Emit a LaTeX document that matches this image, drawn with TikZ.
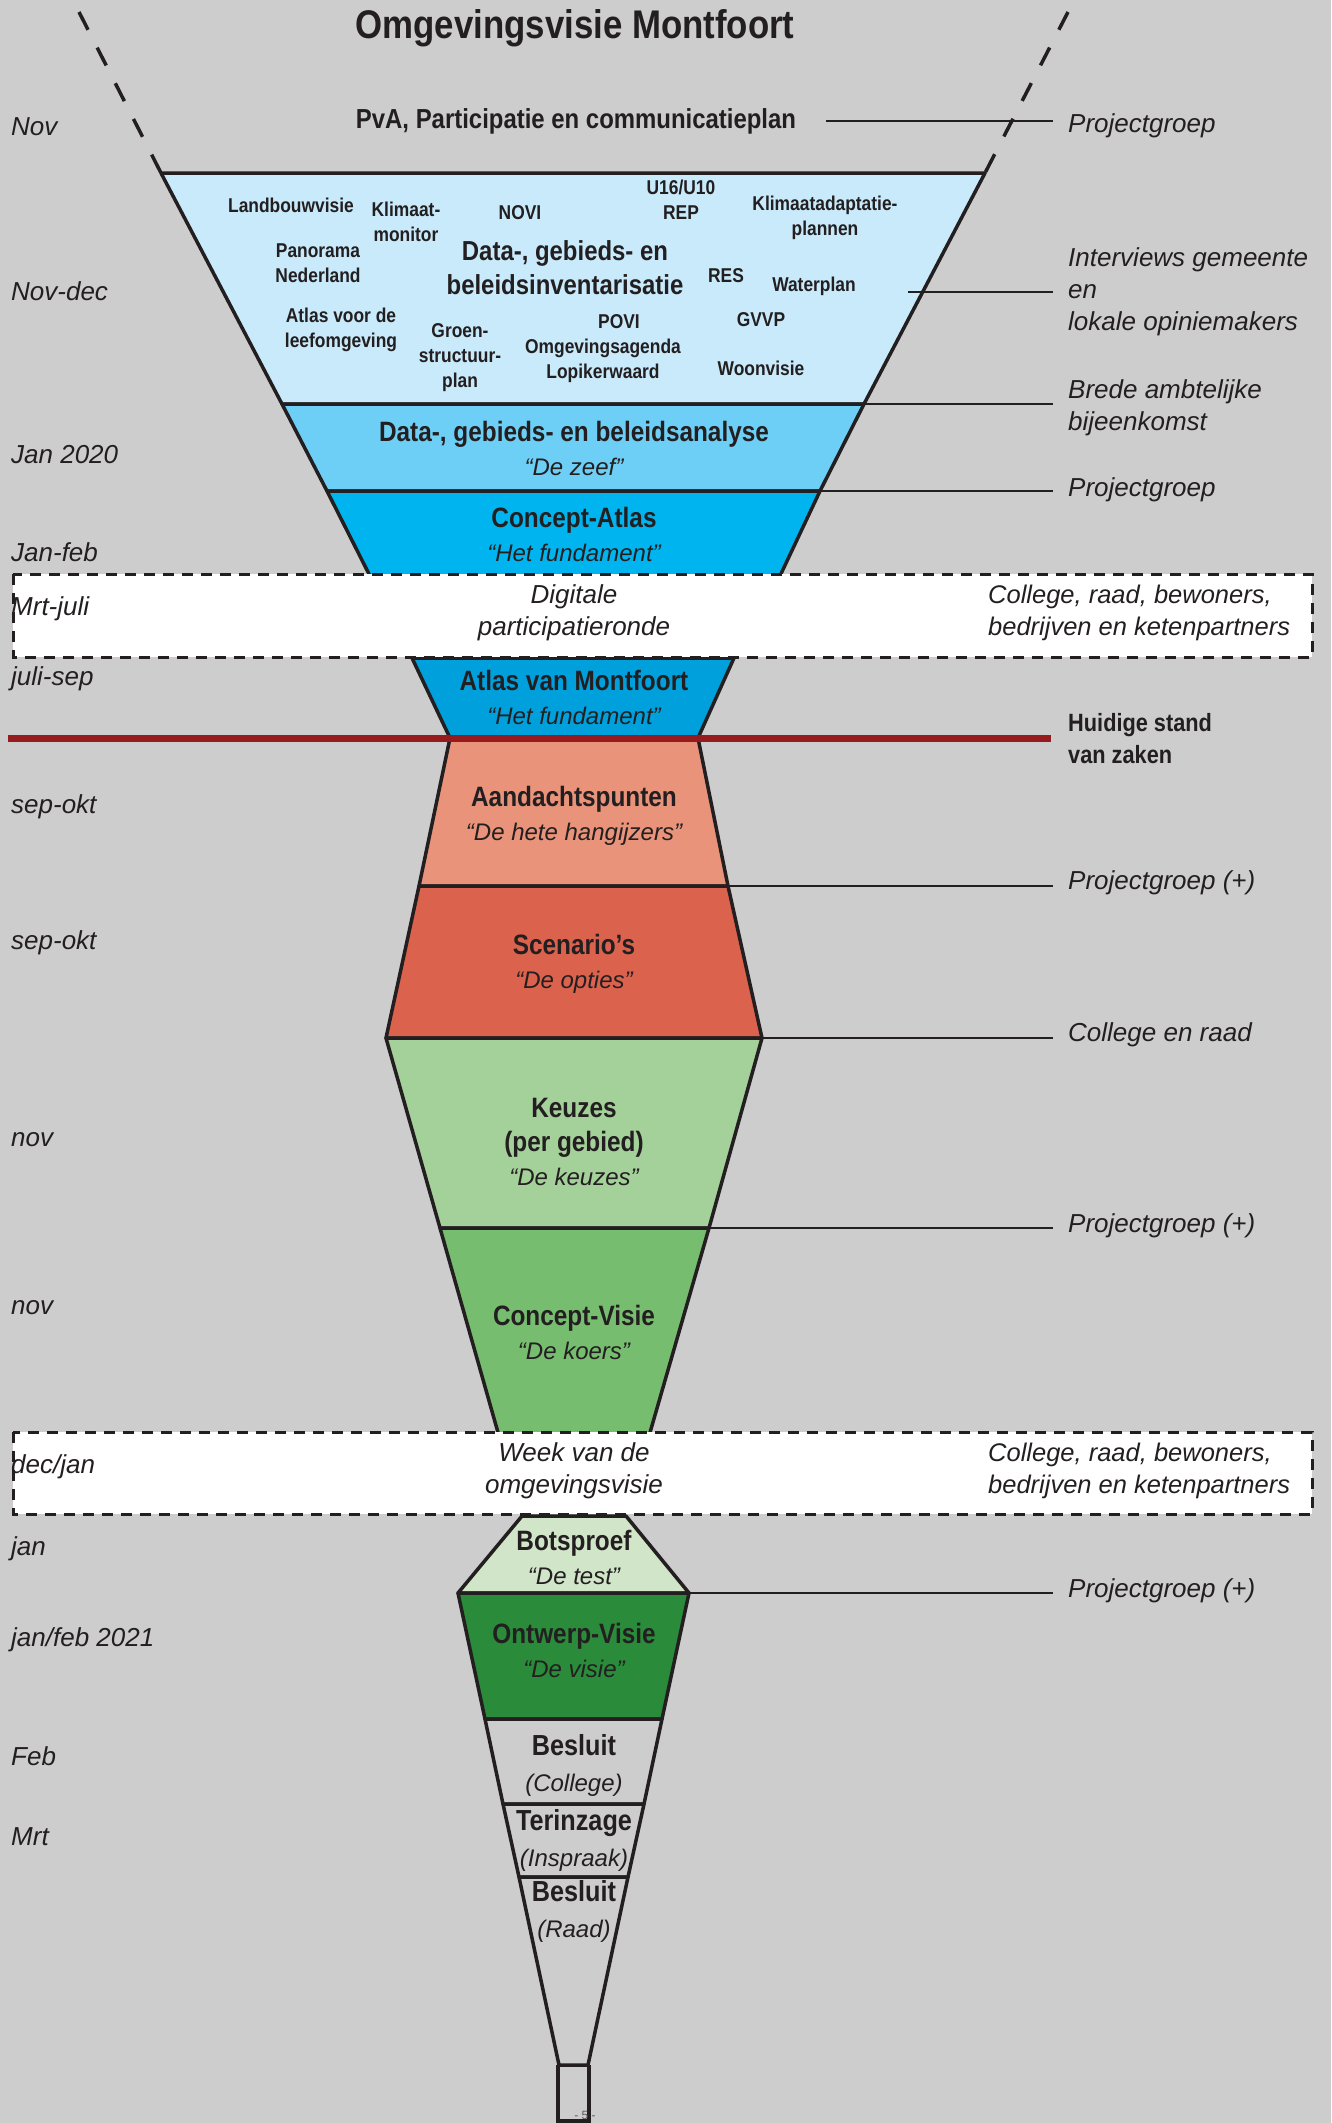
\documentclass[tikz,border=0pt]{standalone}
\usepackage{fontspec}
\setmainfont{Liberation Sans}[BoldFeatures={FakeStretch=0.87}]
\usepackage{tikz}

\definecolor{bggray}{HTML}{CDCDCD}
\definecolor{ink}{HTML}{231F20}
\definecolor{invblue}{HTML}{C8EAFB}
\definecolor{zeefblue}{HTML}{6DCFF6}
\definecolor{atlasblue}{HTML}{00B5EF}
\definecolor{montblue}{HTML}{00A0DC}
\definecolor{puntenred}{HTML}{E8937A}
\definecolor{optiesred}{HTML}{DB634E}
\definecolor{keuzegreen}{HTML}{A4D09A}
\definecolor{koersgreen}{HTML}{77BD6F}
\definecolor{testgreen}{HTML}{D1E6C8}
\definecolor{visiegreen}{HTML}{2A8B3B}
\definecolor{standred}{HTML}{951B1E}

\newcommand{\motto}[1]{{\fontsize{24}{34}\selectfont\mdseries\itshape #1}}

\begin{document}
\begin{tikzpicture}[x=1pt, y=-1pt, text=ink,
    part/.style={draw=ink, line width=3.5pt, line join=round},
    conn/.style={draw=ink, line width=2.7pt, shorten >=15pt},
    month/.style={anchor=west, inner sep=0pt, font=\fontsize{26}{32}\selectfont\itshape},
    who/.style={anchor=west, inner sep=0pt, align=left, font=\fontsize{26}{32}\selectfont\itshape},
    src/.style={inner sep=0pt, align=center, font=\fontsize{20}{25}\selectfont\bfseries},
    stage/.style={inner sep=0pt, align=center, font=\fontsize{28}{34}\selectfont\bfseries},
    dashbox/.style={draw=ink, fill=white, line width=3pt, dash pattern=on 11pt off 8pt}]
    \useasboundingbox (0,0) rectangle (1331,2123);
    \fill[bggray] (0,0) rectangle (1331,2123);

    % bovenkant trechter
    \draw[ink, line width=3.5pt, dash pattern=on 20pt off 20pt] (79,12) -- (161,173);
    \draw[ink, line width=3.5pt, dash pattern=on 20pt off 20pt] (1068,12) -- (985,173);

    \filldraw[part, fill=invblue] (161,173) -- (985,173) -- (864,404) -- (282,404) -- cycle;
    \filldraw[part, fill=zeefblue] (282,404) -- (864,404) -- (820,491) -- (327,491) -- cycle;
    \filldraw[part, fill=atlasblue] (327,491) -- (820,491) -- (779,578) -- (371,578) -- cycle;

    % midden
    \filldraw[part, fill=montblue] (412,658) -- (734,658) -- (698,738) -- (450,738) -- cycle;
    \filldraw[part, fill=puntenred] (450,738) -- (698,738) -- (728,886) -- (419,886) -- cycle;
    \filldraw[part, fill=optiesred] (419,886) -- (728,886) -- (762,1038) -- (386,1038) -- cycle;
    \filldraw[part, fill=keuzegreen] (386,1038) -- (762,1038) -- (709,1228) -- (440,1228) -- cycle;
    \filldraw[part, fill=koersgreen] (440,1228) -- (709,1228) -- (649,1436) -- (499,1436) -- cycle;

    % onderkant
    \filldraw[part, fill=testgreen] (522,1516) -- (626,1516) -- (689,1593) -- (458,1593) -- cycle;
    \filldraw[part, fill=visiegreen] (458,1593) -- (689,1593) -- (662,1719) -- (485,1719) -- cycle;
    \filldraw[part, fill=bggray] (485,1719) -- (662,1719) -- (644,1804) -- (503,1804) -- cycle;
    \filldraw[part, fill=bggray] (503,1804) -- (644,1804) -- (628,1877) -- (519,1877) -- cycle;
    \filldraw[part, fill=bggray] (519,1877) -- (628,1877) -- (588,2065) -- (559,2065) -- cycle;
    \draw[ink, line width=2pt] (559,2065) -- (588,2065);
    \draw[ink, line width=4pt] (558,2065) -- (558,2121) -- (589,2121) -- (589,2065);

    % participatie
    \draw[dashbox] (13,574) rectangle (1312,657);
    \draw[dashbox] (13,1432) rectangle (1312,1514);

    % titel
    \node[inner sep=0pt, font=\fontsize{40}{48}\selectfont\bfseries] (title) at (575,28) {Omgevingsvisie Montfoort};
    \node[inner sep=0pt, font=\fontsize{27.5}{34}\selectfont\bfseries] (pva) at (576,121) {PvA, Participatie en communicatieplan};

    % bronnen
    \node[src] (landb) at (291,205) {Landbouwvisie};
    \node[src] (klim) at (406,222) {Klimaat-\\monitor};
    \node[src] (novi) at (520,213) {NOVI};
    \node[src] (rep) at (681,200) {U16/U10\\REP};
    \node[src] (kadapt) at (825,218) {Klimaatadaptatie-\\plannen};
    \node[src] (panor) at (318,263) {Panorama\\Nederland};
    \node[src] (res) at (726,276) {RES};
    \node[src] (water) at (814,286) {Waterplan};
    \node[src] (leef) at (341,330) {Atlas voor de\\leefomgeving};
    \node[src] (groen) at (460,358) {Groen-\\structuur-\\plan};
    \node[src] (povi) at (619,322) {POVI};
    \node[src] (lopik) at (603,361) {Omgevingsagenda\\Lopikerwaard};
    \node[src] (gvvp) at (761,320) {GVVP};
    \node[src] (woon) at (761,368) {Woonvisie};
    \node[stage, font=\fontsize{27.5}{34}\selectfont\bfseries] (inv) at (565,268) {Data-, gebieds- en\\beleidsinventarisatie};

    % fasen
    \node[stage] (zeef) at (574,448) {Data-, gebieds- en beleidsanalyse\\\motto{“De zeef”}};
    \node[stage] (catlas) at (574,534) {Concept-Atlas\\\motto{“Het fundament”}};
    \node[who, anchor=center, align=center] (digi) at (574,613) {Digitale\\participatieronde};
    \node[stage] (amont) at (574,697) {Atlas van Montfoort\\\motto{“Het fundament”}};
    \node[stage] (punten) at (574,816) {Aandachtspunten\\\motto{“De hete hangijzers”}};
    \node[stage] (opties) at (574,964) {Scenario’s\\\motto{“De opties”}};
    \node[stage] (keuzes) at (574,1142) {Keuzes\\(per gebied)\\\motto{“De keuzes”}};
    \node[stage] (koers) at (574,1332) {Concept-Visie\\\motto{“De koers”}};
    \node[who, anchor=center, align=center] (week) at (574,1471) {Week van de\\omgevingsvisie};
    \node[stage] (bots) at (574,1557) {Botsproef\\\motto{“De test”}};
    \node[stage] (ontwerp) at (574,1650) {Ontwerp-Visie\\\motto{“De visie”}};
    \node[stage, font=\fontsize{29}{36}\selectfont\bfseries] (besl1) at (574,1765) {Besluit\\\motto{(College)}};
    \node[stage, font=\fontsize{29}{36}\selectfont\bfseries] (terinz) at (574,1840) {Terinzage\\\motto{(Inspraak)}};
    \node[stage, font=\fontsize{29}{36}\selectfont\bfseries] (besl2) at (574,1911) {Besluit\\\motto{(Raad)}};
    \node[anchor=base, inner sep=0pt, text=ink!75, font=\fontsize{12}{14}\selectfont] (page) at (585,2119) {- 5 -};

    % maanden
    \node[month] (m1) at (11,127) {Nov};
    \node[month] (m2) at (11,291) {Nov-dec};
    \node[month] (m3) at (11,455) {Jan 2020};
    \node[month] (m4) at (11,552) {Jan-feb};
    \node[month] (m5) at (11,609) {Mrt-juli};
    \node[month] (m6) at (11,679) {juli-sep};
    \node[month] (m7) at (11,807) {sep-okt};
    \node[month] (m8) at (11,943) {sep-okt};
    \node[month] (m9) at (11,1140) {nov};
    \node[month] (m10) at (11,1308) {nov};
    \node[month] (m11) at (11,1467) {dec/jan};
    \node[month] (m12) at (11,1549) {jan};
    \node[month] (m13) at (11,1640) {jan/feb 2021};
    \node[month] (m14) at (11,1756) {Feb};
    \node[month] (m15) at (11,1837) {Mrt};

    % betrokkenen
    \node[who] (pg1) at (1068,126) {Projectgroep};
    \node[who] (ivw) at (1068,292) {Interviews gemeente\\en\\lokale opiniemakers};
    \node[who] (brede) at (1068,408) {Brede ambtelijke\\bijeenkomst};
    \node[who] (pg2) at (1068,490) {Projectgroep};
    \node[who, font=\fontsize{25}{32}\selectfont\bfseries] (stand) at (1068,739) {Huidige stand\\van zaken};
    \node[who] (pg3) at (1068,883) {Projectgroep (+)};
    \node[who] (raad) at (1068,1035) {College en raad};
    \node[who] (pg4) at (1068,1226) {Projectgroep (+)};
    \node[who] (pg5) at (1068,1591) {Projectgroep (+)};
    \node[who, font=\fontsize{25.5}{32}\selectfont\itshape] (allen1) at (988,613) {College, raad, bewoners,\\bedrijven en ketenpartners};
    \node[who, font=\fontsize{25.5}{32}\selectfont\itshape] (allen2) at (988,1471) {College, raad, bewoners,\\bedrijven en ketenpartners};

    \coordinate (ivs) at (908,292);
    \coordinate (invr) at (864,404);
    \coordinate (zeefr) at (820,491);
    \coordinate (puntr) at (728,886);
    \coordinate (optr) at (762,1038);
    \coordinate (keuzr) at (709,1228);
    \coordinate (botsr) at (689,1593);
    \coordinate (nu) at (8,738.5);

    \draw[conn, shorten <=30pt] (pva) -- (pva -| pg1.west);
    \draw[conn] (ivs) -- (ivs -| ivw.west);
    \draw[conn] (invr) -- (invr -| brede.west);
    \draw[conn] (zeefr) -- (zeefr -| pg2.west);
    \draw[conn] (puntr) -- (puntr -| pg3.west);
    \draw[conn] (optr) -- (optr -| raad.west);
    \draw[conn] (keuzr) -- (keuzr -| pg4.west);
    \draw[conn] (botsr) -- (botsr -| pg5.west);

    % huidige stand
    \draw[standred, line width=7.5pt, shorten >=17pt] (nu) -- (nu -| stand.west);
\end{tikzpicture}
\end{document}
